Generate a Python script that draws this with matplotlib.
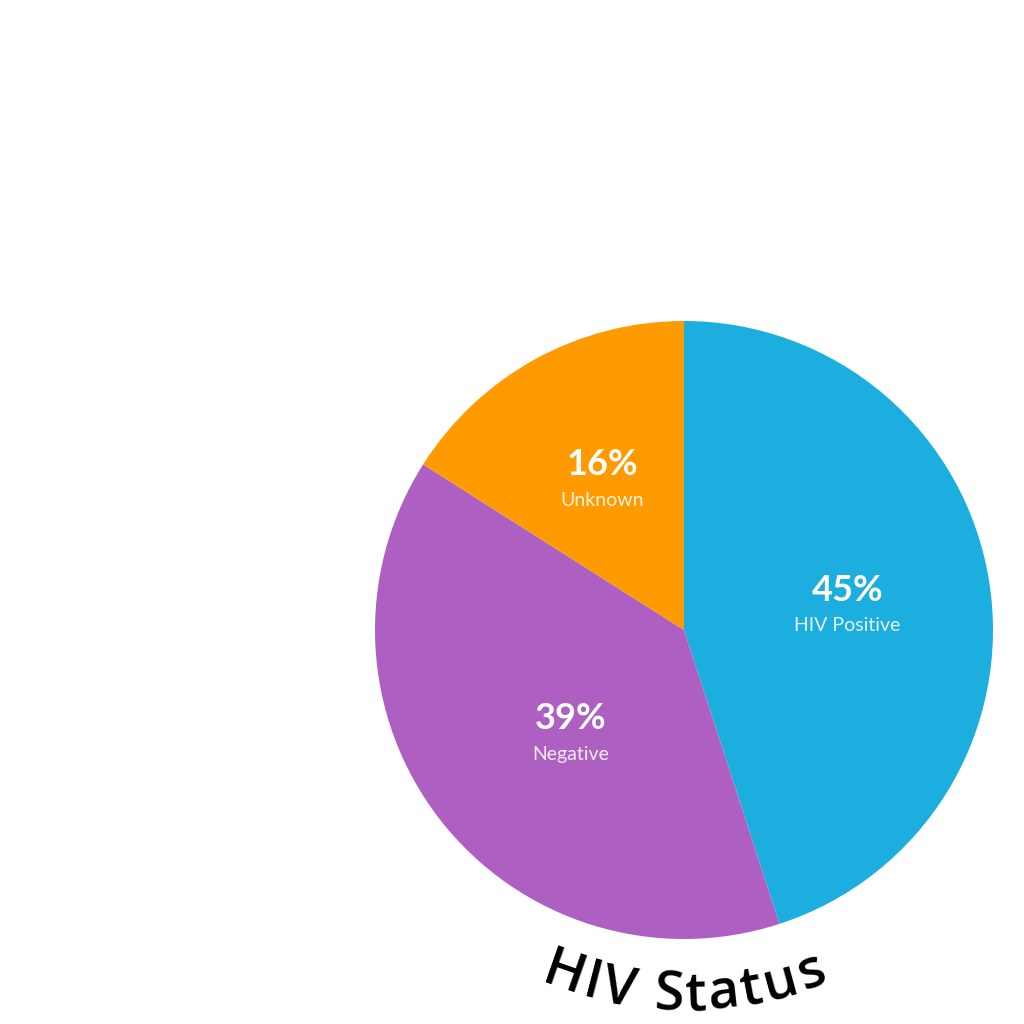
import numpy as np
import matplotlib
matplotlib.use('Agg')
import matplotlib.pyplot as plt

################################################################################
# data
labels = ['HIV Positive', 'Negative', 'Unknown']
shares = [45, 39, 16]
colors = ['#1DAEE0', '#AD60C2', '#FF9A00']
title = 'HIV Status'
################################################################################
plt.rcParams['font.family'] = ['Lato', 'DejaVu Sans']

fig = plt.figure(figsize=(10.24, 10.24), dpi=100)
# pie centre at about (684, 630) px, radius about 309 px
R_PX = 309.0
cx, cy = 684 / 1024, 1 - 630 / 1024
r = R_PX / 1024
ax = fig.add_axes([cx - r, cy - r, 2 * r, 2 * r])

wedges, _ = ax.pie(shares, colors=colors, startangle=90, counterclock=False,
                   wedgeprops=dict(linewidth=0))
ax.set_xlim(-1, 1)
ax.set_ylim(-1, 1)
ax.set_aspect('equal')
ax.axis('off')

# labels inside the slices (small nudges in angle / radius to match the layout)
ang_nudge = [-1.4, 5.4, 0.2]
rad_pos = [0.534, 0.505, 0.545]
for w, lab, val, dang, rr in zip(wedges, labels, shares, ang_nudge, rad_pos):
    mid = np.deg2rad((w.theta1 + w.theta2) / 2 + dang)
    x, y = rr * np.cos(mid), rr * np.sin(mid)
    ax.text(x, y + 0.058, '{}%'.format(val), color='white', fontsize=26,
            fontweight='bold', ha='center', va='center')
    ax.text(x, y - 0.057, lab, color='white', alpha=0.88, fontsize=14,
            ha='center', va='center')

################################################################################
# curved title along the bottom of the pie
fig.canvas.draw()
renderer = fig.canvas.get_renderer()
tprops = dict(fontsize=39, fontweight='semibold', color='black',
              family=['Open Sans', 'DejaVu Sans'])
track = 3.0  # extra letter spacing, px

def text_width(s):
    if not s:
        return 0.0
    t = fig.text(0, 0, s, **tprops)
    wd = t.get_window_extent(renderer).width
    t.remove()
    return wd

total = text_width(title) + track * (len(title) - 1)
base_r = 380.0  # baseline radius in px
for i, ch in enumerate(title):
    if ch == ' ':
        continue
    c = text_width(title[:i + 1]) - text_width(ch) / 2 + track * i
    theta = -np.pi / 2 + (c - total / 2) / base_r
    x = base_r / R_PX * np.cos(theta)
    y = base_r / R_PX * np.sin(theta)
    ax.text(x, y, ch, rotation=np.rad2deg(theta) + 90, rotation_mode='anchor',
            ha='center', va='baseline', clip_on=False, **tprops)

plt.savefig('out.png', dpi=100, facecolor='white')
